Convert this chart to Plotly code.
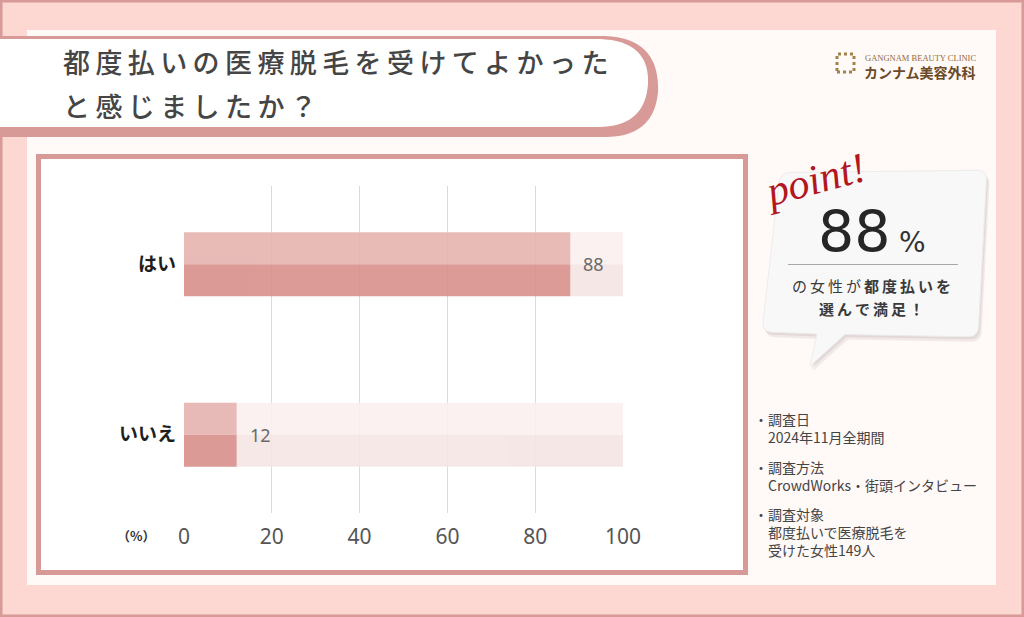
import plotly.graph_objects as go

# ---------------- data ----------------
categories = ["はい", "いいえ"]
values = [88, 12]
x_ticks = [0, 20, 40, 60, 80, 100]
title_lines = ["都度払いの医療脱毛を受けてよかった", "と感じましたか？"]
point_value = "88"
point_lines = [("の女性が", "都度払いを"), ("", "選んで満足！")]
note_heads = ["調査日", "調査方法", "調査対象"]
note_bodies = [["2024年11月全期間"], ["CrowdWorks・街頭インタビュー"],
               ["都度払いで医療脱毛を", "受けた女性149人"]]

W, H = 1024, 617
def fx(x): return x / W
def fy(y): return 1 - y / H

def path(cmds):
    s = ""
    for c in cmds:
        if isinstance(c, str):
            s += c
        else:
            s += f"{fx(c[0]):.5f},{fy(c[1]):.5f} "
    return s

def spaced(s, sep="\u2009"):
    return sep.join(list(s))

PINK = "#d89a96"
shapes = []
# inner light panel
shapes.append(dict(type="rect", xref="paper", yref="paper", x0=fx(27), x1=fx(996), y0=fy(585), y1=fy(30),
                   fillcolor="#fff9f8", line=dict(width=0), layer="below"))
# outer border
shapes.append(dict(type="rect", xref="paper", yref="paper", x0=0, x1=1, y0=0, y1=1,
                   fillcolor="rgba(0,0,0,0)", line=dict(color=PINK, width=5), layer="below"))
# title banner
shapes.append(dict(type="path", xref="paper", yref="paper", layer="below",
                   path=path(["M", (0, 36), "L", (605, 36), "Q", (660, 38), (658, 92), "Q", (654, 137), (605, 137),
                              "L", (0, 137), "Z"]),
                   fillcolor=PINK, line=dict(width=0)))
shapes.append(dict(type="path", xref="paper", yref="paper", layer="below",
                   path=path(["M", (0, 39), "L", (600, 39), "Q", (650, 41), (648, 84), "Q", (645, 127), (598, 127),
                              "L", (0, 127), "Z"]),
                   fillcolor="#ffffff", line=dict(width=0)))
# chart frame
shapes.append(dict(type="rect", xref="paper", yref="paper", layer="below",
                   x0=fx(38.5), x1=fx(745.5), y0=fy(572.5), y1=fy(156.5),
                   fillcolor="#ffffff", line=dict(color=PINK, width=5)))
# speech bubble (shadow + body)
bubble = [("M", (790, 172.5)), ("L", (977, 170.3)), ("Q", (987, 170), (986.4, 180)), ("L", (978.6, 327)),
          ("Q", (978, 337), (968, 336.8)), ("L", (845, 334.5)), ("L", (810, 366)), ("L", (817, 334)),
          ("L", (772, 332.3)), ("Q", (762, 332), (763, 322)), ("L", (779, 183)), ("Q", (780, 173), (790, 172.5))]
def bubble_path(dx, dy):
    cmds = []
    for item in bubble:
        cmds.append(item[0])
        for p in item[1:]:
            cmds.append((p[0] + dx, p[1] + dy))
    cmds.append("Z")
    return path(cmds)
shapes.append(dict(type="path", xref="paper", yref="paper", layer="below", path=bubble_path(3, 5),
                   fillcolor="rgba(120,100,100,0.10)", line=dict(width=0)))
shapes.append(dict(type="path", xref="paper", yref="paper", layer="below", path=bubble_path(1.5, 2.5),
                   fillcolor="rgba(120,100,100,0.12)", line=dict(width=0)))
shapes.append(dict(type="path", xref="paper", yref="paper", layer="below", path=bubble_path(0, 0),
                   fillcolor="#f8f8f8", line=dict(color="#ececec", width=1)))
# divider in bubble
shapes.append(dict(type="line", xref="paper", yref="paper", x0=fx(788), x1=fx(958), y0=fy(264.5), y1=fy(264.5),
                   line=dict(color="#a8a8a8", width=1)))
# logo icon
shapes.append(dict(type="rect", xref="paper", yref="paper", x0=fx(837), x1=fx(854), y0=fy(72), y1=fy(54),
                   fillcolor="rgba(0,0,0,0)", line=dict(color="#a3824a", width=3, dash="dot")))

annotations = []
# title
for i, line in enumerate(title_lines):
    annotations.append(dict(xref="paper", yref="paper", x=fx(61), y=fy(61 + i * 45), xanchor="left", yanchor="middle",
                            text=spaced(line), showarrow=False,
                            font=dict(family="Noto Sans CJK JP", size=27, color="#454545", weight=500)))
# (%)
annotations.append(dict(xref="paper", yref="paper", x=fx(136), y=fy(535), xanchor="center", yanchor="middle",
                        text="（%）", showarrow=False,
                        font=dict(family="Noto Sans CJK JP", size=13, color="#333333", weight="bold")))
# value labels
for c, v in zip(categories, values):
    annotations.append(dict(xref="x", yref="y", x=v, y=c, xanchor="left", yanchor="middle", xshift=11,
                            text=str(v), showarrow=False,
                            font=dict(family="Noto Sans", size=18, color="#6a6a6a")))
# logo text
annotations.append(dict(xref="paper", yref="paper", x=fx(863), y=fy(58), xanchor="left", yanchor="middle",
                        text="GANGNAM BEAUTY CLINIC", showarrow=False,
                        font=dict(family="Liberation Serif", size=8.5, color="#8f6d3c")))
annotations.append(dict(xref="paper", yref="paper", x=fx(862), y=fy(72), xanchor="left", yanchor="middle",
                        text="カンナム美容外科", showarrow=False,
                        font=dict(family="Noto Sans CJK JP", size=14, color="#6b4a27", weight="bold")))
# point!
annotations.append(dict(xref="paper", yref="paper", x=fx(814), y=fy(180), xanchor="center", yanchor="middle",
                        text="point!", showarrow=False, textangle=-15,
                        font=dict(family="Liberation Serif", size=42, color="#b3161c", style="italic")))
# 88 %
annotations.append(dict(xref="paper", yref="paper", x=fx(854), y=fy(232), xanchor="center", yanchor="middle",
                        text=point_value, showarrow=False,
                        font=dict(family="DejaVu Sans", size=57, color="#262626")))
annotations.append(dict(xref="paper", yref="paper", x=fx(912), y=fy(242), xanchor="center", yanchor="middle",
                        text="%", showarrow=False,
                        font=dict(family="DejaVu Sans", size=28, color="#333333")))
for i, (plain, bold) in enumerate(point_lines):
    txt = spaced(plain) + ("\u2009" if plain else "") + "<b>" + spaced(bold) + "</b>"
    annotations.append(dict(xref="paper", yref="paper", x=fx(871), y=fy(285 + i * 23), xanchor="center",
                            yanchor="middle", text=txt, showarrow=False,
                            font=dict(family="Noto Sans CJK JP", size=15, color="#3a3a3a")))
# notes
note_y = [[419, 437], [467, 485], [514, 532, 550]]
for head, bodies, ys in zip(note_heads, note_bodies, note_y):
    annotations.append(dict(xref="paper", yref="paper", x=fx(752), y=fy(ys[0]), xanchor="left", yanchor="middle",
                            text="・" + head, showarrow=False,
                            font=dict(family="Noto Sans CJK JP", size=14, color="#444444")))
    for b, yy in zip(bodies, ys[1:]):
        annotations.append(dict(xref="paper", yref="paper", x=fx(766), y=fy(yy), xanchor="left", yanchor="middle",
                                text=b, showarrow=False,
                                font=dict(family="Noto Sans CJK JP", size=14, color="#444444")))

HALF = 0.188
fig = go.Figure()
rest = [100 - v for v in values]
fig.add_trace(go.Bar(y=categories, x=rest, base=values, orientation="h", width=HALF, offset=-HALF,
                     marker=dict(color="rgb(251,240,239)", line=dict(width=0)), opacity=0.92, hoverinfo="skip"))
fig.add_trace(go.Bar(y=categories, x=rest, base=values, orientation="h", width=HALF, offset=0,
                     marker=dict(color="rgb(245,230,228)", line=dict(width=0)), opacity=0.92, hoverinfo="skip"))
fig.add_trace(go.Bar(y=categories, x=values, orientation="h", width=HALF, offset=-HALF,
                     marker=dict(color="rgb(230,181,177)", line=dict(width=0)), opacity=0.92))
fig.add_trace(go.Bar(y=categories, x=values, orientation="h", width=HALF, offset=0,
                     marker=dict(color="rgb(217,146,142)", line=dict(width=0)), opacity=0.92))

fig.update_layout(
    width=W, height=H, autosize=False,
    margin=dict(l=0, r=0, t=0, b=0, pad=0, autoexpand=False),
    paper_bgcolor="#fdd7d2", plot_bgcolor="rgba(0,0,0,0)",
    barmode="overlay", showlegend=False,
    shapes=shapes, annotations=annotations,
    xaxis=dict(domain=[fx(184), fx(623)], range=[0, 100], tickvals=x_ticks, showgrid=True, automargin=False,
               gridcolor="#dadada", gridwidth=1, zeroline=False, showline=False, ticks="",
               ticklabelstandoff=9, tickfont=dict(family="Noto Sans", size=21, color="#555555")),
    yaxis=dict(domain=[fy(513), fy(186)], type="category", categoryorder="array", categoryarray=categories,
               range=[1.46, -0.46], showgrid=False, zeroline=False, showline=False, ticks="", automargin=False,
               ticklabelstandoff=7,
               tickfont=dict(family="Noto Sans CJK JP", size=19, color="#1e1e1e", weight="bold")),
)

fig.write_html("out.html", config={"responsive": False, "displayModeBar": False},
               post_script="document.body.style.margin='0';document.body.style.overflow='hidden';")
